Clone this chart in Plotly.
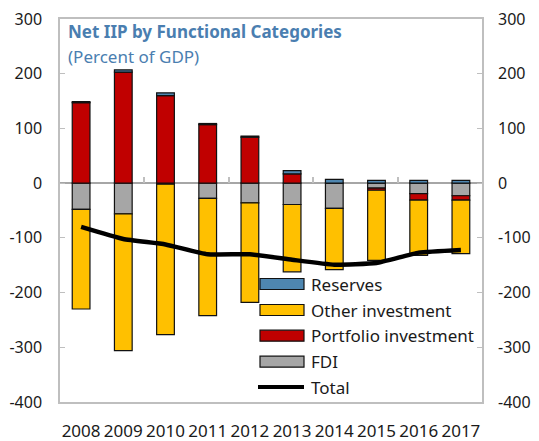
import plotly.graph_objects as go

# ---- data (percent of GDP) ----
years = ["2008", "2009", "2010", "2011", "2012", "2013", "2014", "2015", "2016", "2017"]
fdi = [-48, -56, -2, -28, -36, -39, -46, -9, -19, -23]
portfolio = [147, 203, 160, 107, 84, 17, 0, -4, -12, -8]
other_investment = [-182, -250, -275, -214, -182, -123, -112, -128, -101, -98]
reserves = [2, 4, 5, 2, 2, 6, 7, 5, 5, 5]
total = [-80, -102, -112, -130, -130, -140, -149, -146, -127, -122]

y_ticks = [300, 200, 100, 0, -100, -200, -300, -400]
y_tick_labels = [str(v) for v in y_ticks]

title_text = "Net IIP by Functional Categories"
subtitle_text = "(Percent of GDP)"

FONT = "Noto Sans"
FS = 17
FS_Y = 16
C_FDI = "#A6A6A6"
C_PORT = "#C00000"
C_OTHER = "#FFC000"
C_RES = "#4E86B0"
C_TITLE = "#4A7EB0"
C_FRAME = "#BFBFBF"
C_TEXT = "#1a1a1a"

series = [
    ("FDI", fdi, C_FDI),
    ("Portfolio investment", portfolio, C_PORT),
    ("Other investment", other_investment, C_OTHER),
    ("Reserves", reserves, C_RES),
]

fig = go.Figure()
for name, vals, col in series:
    fig.add_trace(go.Bar(
        x=years, y=vals, name=name,
        marker=dict(color=col, line=dict(color="#111111", width=1.2)),
        showlegend=False,
    ))
# Total line drawn against the (identical) right-hand axis so that axis is rendered
fig.add_trace(go.Scatter(
    x=years, y=total, name="Total", mode="lines", yaxis="y2",
    line=dict(color="black", width=4.5, shape="spline", smoothing=0.4),
    showlegend=False,
))
# empty helper trace so the tick-mark axis on the zero line is rendered
fig.add_trace(go.Scatter(x=[None], y=[None], xaxis="x2", yaxis="y",
                         mode="markers", showlegend=False, hoverinfo="skip"))

# page has an 8px body margin, so the figure is laid out 8px smaller
OFF = 8
PL, PT, PR, PB = 60, 19, 482, 402      # target plot box in window pixels
plot_w = PR - PL
plot_h = PB - PT

def px_x(x):
    return (x - PL) / plot_w

def px_y(y):
    return (PB - y) / plot_h

# ---- custom legend (paper coordinates) ----
legend_rows = [
    ("Reserves", C_RES, "box"),
    ("Other investment", C_OTHER, "box"),
    ("Portfolio investment", C_PORT, "box"),
    ("FDI", C_FDI, "box"),
    ("Total", "black", "line"),
]
row_px = [284, 310, 335.7, 361.7, 387]
shapes = []
annotations = []
half = 5.5 / plot_h
for (label, col, kind), yp in zip(legend_rows, row_px):
    yc = px_y(yp)
    if kind == "box":
        shapes.append(dict(type="rect", xref="paper", yref="paper",
                           x0=px_x(260), x1=px_x(304), y0=yc - half, y1=yc + half,
                           fillcolor=col, line=dict(color="#111111", width=1.2)))
    else:
        shapes.append(dict(type="line", xref="paper", yref="paper",
                           x0=px_x(258), x1=px_x(304), y0=yc, y1=yc,
                           line=dict(color="black", width=4)))
    annotations.append(dict(text=label, xref="paper", yref="paper", x=px_x(309), y=yc,
                            xanchor="left", yanchor="middle", showarrow=False,
                            font=dict(family=FONT, size=FS, color=C_TEXT)))

annotations.append(dict(text="<b>" + title_text + "</b>", xref="paper", yref="paper",
                        x=px_x(66), y=px_y(31),
                        xanchor="left", yanchor="middle", showarrow=False,
                        font=dict(family=FONT, size=FS, color=C_TITLE)))
annotations.append(dict(text=subtitle_text, xref="paper", yref="paper",
                        x=px_x(66), y=px_y(56),
                        xanchor="left", yanchor="middle", showarrow=False,
                        font=dict(family=FONT, size=FS, color=C_TITLE)))

yaxis_common = dict(
    range=[-400, 300], tickvals=y_ticks, ticktext=y_tick_labels,
    ticks="inside", ticklen=5, tickcolor=C_FRAME, showgrid=False,
    tickfont=dict(family=FONT, size=FS_Y, color=C_TEXT),
    fixedrange=True, automargin=False, ticklabeloverflow="allow",
)

W, H = 539 - OFF, 441 - OFF
fig.update_layout(
    width=W, height=H,
    margin=dict(l=PL - OFF, r=539 - PR, t=PT - OFF, b=441 - PB),
    paper_bgcolor="white", plot_bgcolor="white",
    barmode="relative", bargap=0.58,
    showlegend=False,
    font=dict(family=FONT, size=FS, color=C_TEXT),
    xaxis=dict(
        showline=True, linecolor=C_FRAME, linewidth=1.5, mirror=True,
        ticks="", showgrid=False, automargin=False,
        tickfont=dict(family=FONT, size=FS, color=C_TEXT),
        ticklabelstandoff=13, ticklabeloverflow="allow",
    ),
    xaxis2=dict(
        overlaying="x", anchor="free", position=400 / 700, side="top",
        range=[-0.5, 9.5], tickvals=[1.5, 3.5, 5.5, 7.5],
        ticks="outside", ticklen=6, tickcolor=C_FRAME, tickwidth=1.5,
        showline=False, showgrid=False, showticklabels=False, zeroline=False,
        automargin=False, fixedrange=True,
    ),
    yaxis=dict(
        **yaxis_common,
        ticklabelstandoff=13,
        showline=True, linecolor=C_FRAME, linewidth=1.5, mirror=True,
        zeroline=True, zerolinecolor="#A6A6A6", zerolinewidth=1.5,
    ),
    yaxis2=dict(
        **yaxis_common,
        ticklabelstandoff=15,
        overlaying="y", side="right", anchor="x", showline=False, zeroline=False,
    ),
    shapes=shapes,
    annotations=annotations,
)

fig.write_html("out.html")
